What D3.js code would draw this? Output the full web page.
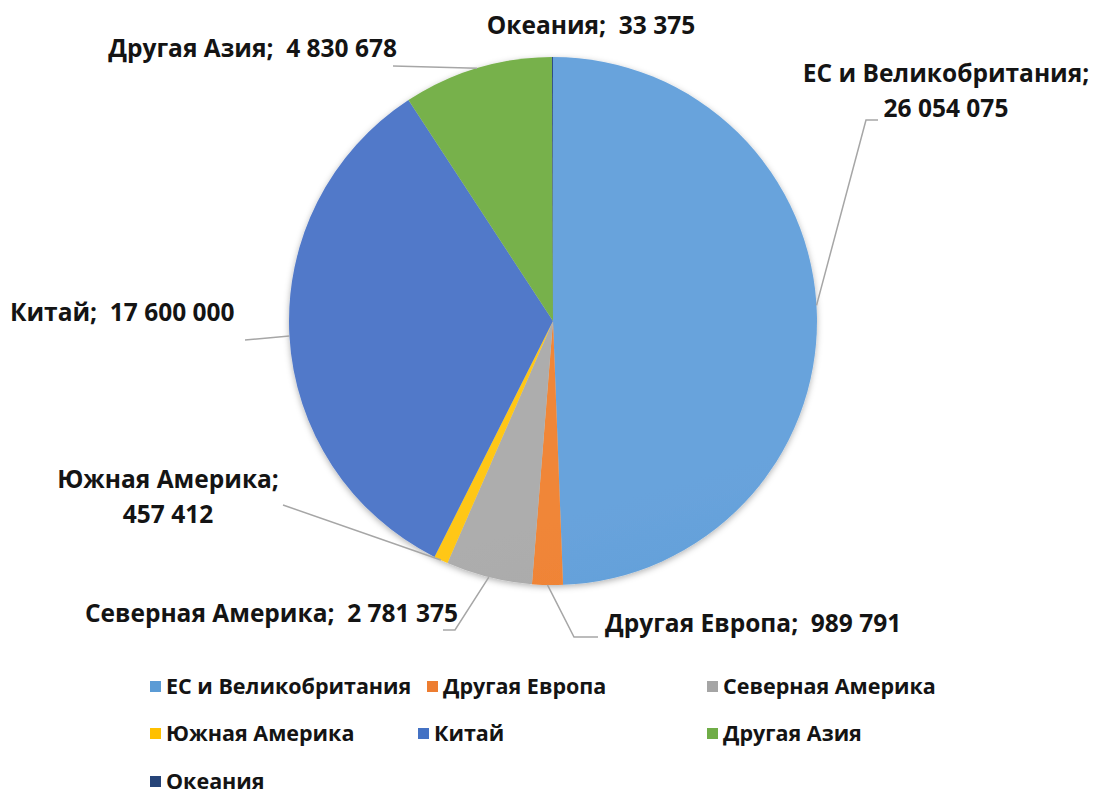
<!DOCTYPE html>
<html>
<head>
<meta charset="utf-8">
<script src="https://cdn.jsdelivr.net/npm/d3@7"></script>
<style>
  html, body { margin: 0; padding: 0; background: #fff; }
  svg { display: block; font-family: "Open Sans", "Noto Sans", sans-serif; font-weight: 700; }
  text { white-space: pre; }
</style>
</head>
<body>
<svg id="chart" width="1098" height="794"></svg>
<script>
// Regions and their volumes
const categories = ["ЕС и Великобритания", "Другая Европа", "Северная Америка", "Южная Америка", "Китай", "Другая Азия", "Океания"];
const values = [26054075, 989791, 2781375, 457412, 17600000, 4830678, 33375];
const colors = ["#5b9bd5", "#ed7d31", "#a5a5a5", "#ffc000", "#4472c4", "#70ad47", "#264478"];
const lightColors = ["#68a3dc", "#f08638", "#adadad", "#ffc718", "#5179c9", "#77b14c", "#2e4e88"];
const darkColors = ["#4484c6", "#dc6b20", "#949494", "#eeb000", "#2b58b4", "#5c9a37", "#1c3766"];

const fmt = v => d3.format(",")(v).replace(/,/g, " ");

const svg = d3.select("#chart");
const cx = 553, cy = 321, R = 264;

const defs = svg.append("defs");
const shadow = defs.append("filter").attr("id", "shadow")
  .attr("x", "-10%").attr("y", "-10%").attr("width", "120%").attr("height", "125%");
shadow.append("feDropShadow").attr("dx", 0).attr("dy", 2).attr("stdDeviation", 3)
  .attr("flood-color", "#000").attr("flood-opacity", 0.3);

categories.forEach((c, i) => {
  const g = defs.append("linearGradient").attr("id", "grad" + i)
    .attr("gradientUnits", "userSpaceOnUse")
    .attr("x1", cx - R * 0.3).attr("y1", cy - R).attr("x2", cx + R * 0.3).attr("y2", cy + R);
  g.append("stop").attr("offset", "0").attr("stop-color", lightColors[i]);
  g.append("stop").attr("offset", "0.5").attr("stop-color", colors[i]);
  g.append("stop").attr("offset", "1").attr("stop-color", darkColors[i]);
});

const data = categories.map((c, i) => ({ name: c, value: values[i], i }));
const pie = d3.pie().value(d => d.value).sort(null);
const arcs = pie(data);
const arc = d3.arc().innerRadius(0).outerRadius(R);

const pieG = svg.append("g").attr("transform", `translate(${cx},${cy})`);
pieG.append("g").attr("filter", "url(#shadow)")
  .selectAll("path").data(arcs).join("path")
  .attr("d", arc)
  .attr("fill", d => `url(#grad${d.data.i})`);

// Label layout: text anchor, baseline and leader path from the slice edge
const labelLayout = [
  { two: true, x: 946, y: 82, anchor: "middle", end: [[866, 120], [878, 120]], from: 0.487 },
  { two: false, x: 605, y: 632, anchor: "start", end: [[574, 637], [598, 637]] },
  { two: false, x: 458, y: 622, anchor: "end", end: [[455, 630], [443, 630]] },
  { two: true, x: 168, y: 488, anchor: "middle", end: [[283, 505]] },
  { two: false, x: 10, y: 321, anchor: "start", end: [[245, 340]] },
  { two: false, x: 397, y: 57, anchor: "end", end: [[393, 66]] },
  { two: false, x: 591, y: 34, anchor: "middle", end: null }
];

const leaders = svg.append("g").attr("fill", "none").attr("stroke", "#a6a6a6").attr("stroke-width", 1.5);
arcs.forEach((a, k) => {
  const L = labelLayout[k];
  if (!L.end) return;
  const f = L.from !== undefined ? L.from : 0.5;
  const ang = a.startAngle + (a.endAngle - a.startAngle) * f;
  const p0 = [cx + R * Math.sin(ang), cy - R * Math.cos(ang)];
  leaders.append("path").attr("d", d3.line()([p0, ...L.end]));
});

const labels = svg.append("g").attr("fill", "#141414").attr("font-size", 24.5);
arcs.forEach((a, k) => {
  const L = labelLayout[k];
  const t = labels.append("text").attr("text-anchor", L.anchor);
  const lines = L.two
    ? [`${a.data.name};`, fmt(a.data.value)]
    : [`${a.data.name};  ${fmt(a.data.value)}`];
  lines.forEach((s, j) => {
    t.append("tspan").attr("x", L.x).attr("y", L.y + j * 35).text(s);
  });
});

// Legend
const legendPos = [[150, 686], [427, 686], [707, 686], [150, 733], [418, 733], [707, 733], [150, 781]];
const legend = svg.append("g").attr("font-size", 21.5).attr("fill", "#141414");
data.forEach((d, i) => {
  const [lx, ly] = legendPos[i];
  legend.append("rect").attr("x", lx).attr("y", ly - 5).attr("width", 11).attr("height", 11)
    .attr("fill", colors[i]);
  legend.append("text").attr("x", lx + 16).attr("y", ly + 8).text(d.name);
});
</script>
</body>
</html>
